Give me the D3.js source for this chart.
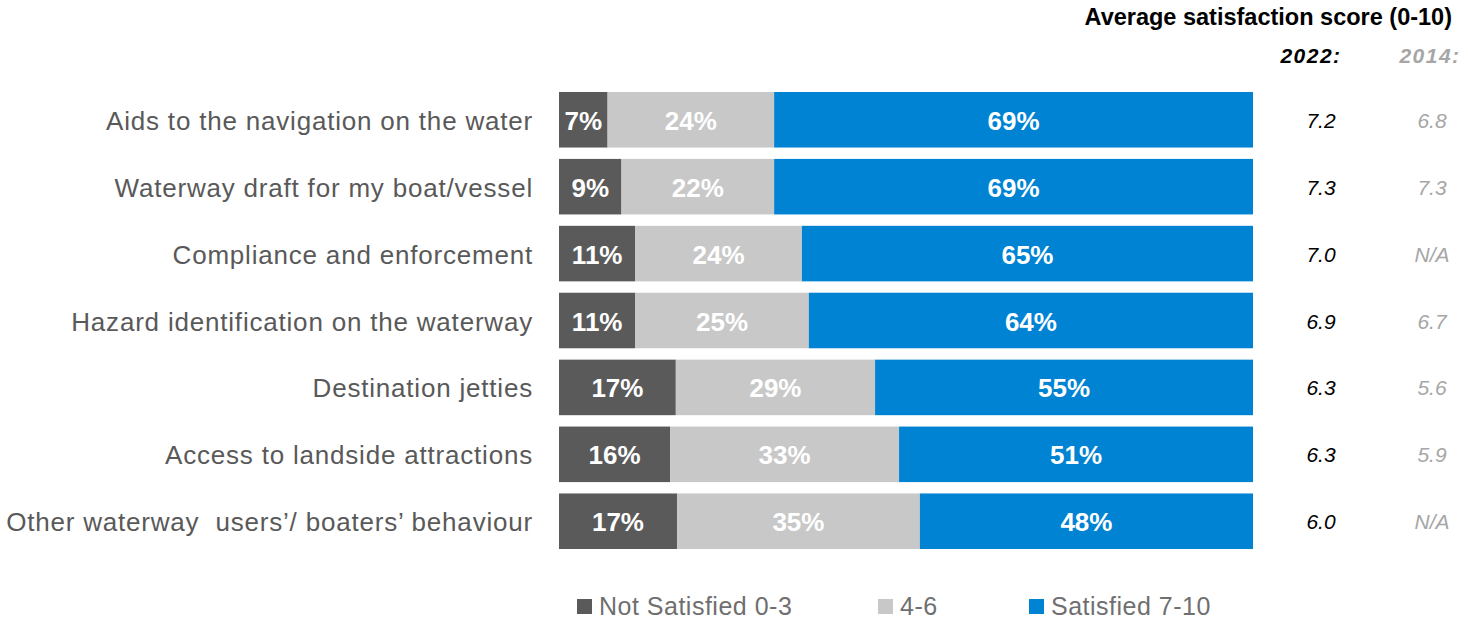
<!DOCTYPE html>
<html>
<head>
<meta charset="utf-8">
<script src="https://cdn.jsdelivr.net/npm/d3@7"></script>
<style>
  html, body { margin: 0; padding: 0; background: #ffffff; }
  svg { display: block; font-family: Arial, "Liberation Sans", sans-serif; }
  .cat { white-space: pre; }
</style>
</head>
<body>
<svg id="chart" width="1468" height="619"></svg>
<script>
// Satisfaction aspects, top to bottom
const categories = [
  "Aids to the navigation on the water",
  "Waterway draft for my boat/vessel",
  "Compliance and enforcement",
  "Hazard identification on the waterway",
  "Destination jetties",
  "Access to landside attractions",
  "Other waterway  users’/ boaters’ behaviour"
];
// Share of respondents per rating band (%)
const notSatisfied = [7, 9, 11, 11, 17, 16, 17];
const neutral      = [24, 22, 24, 25, 29, 33, 35];
const satisfied    = [69, 69, 65, 64, 55, 51, 48];
// Average satisfaction score (0-10)
const score2022 = ["7.2", "7.3", "7.0", "6.9", "6.3", "6.3", "6.0"];
const score2014 = ["6.8", "7.3", "N/A", "6.7", "5.6", "5.9", "N/A"];

const seriesNames = ["Not Satisfied 0-3", "4-6", "Satisfied 7-10"];
const seriesColors = ["#5a5a5a", "#c8c8c8", "#0083d3"];

const svg = d3.select("#chart");

const rows = categories.map((c, i) => ({
  cat: c,
  vals: [notSatisfied[i], neutral[i], satisfied[i]]
}));

const y = d3.scaleBand()
  .domain(categories)
  .range([92, 549])
  .paddingInner(0.17)
  .paddingOuter(0);

const x = d3.scaleLinear().domain([0, 100]).range([559, 1253]);

// Stacked bars, each row spans the full 100%
const rowG = svg.append("g").selectAll("g.row")
  .data(rows)
  .join("g")
  .attr("class", "row");

rowG.each(function(d) {
  const total = d3.sum(d.vals);
  let cum = 0;
  const segs = d.vals.map((v, k) => {
    const s = { v, k, x0: cum / total * 100, x1: (cum + v) / total * 100 };
    cum += v;
    return s;
  });
  const g = d3.select(this);
  g.selectAll("rect")
    .data(segs)
    .join("rect")
    .attr("x", s => x(s.x0))
    .attr("width", s => x(s.x1) - x(s.x0))
    .attr("y", y(d.cat))
    .attr("height", y.bandwidth())
    .attr("fill", s => seriesColors[s.k]);
  g.selectAll("text.val")
    .data(segs)
    .join("text")
    .attr("class", "val")
    .attr("x", s => (x(s.x0) + x(s.x1)) / 2)
    .attr("y", y(d.cat) + y.bandwidth() / 2 + 10)
    .attr("text-anchor", "middle")
    .attr("fill", "#ffffff")
    .attr("font-weight", "bold")
    .attr("font-size", 26)
    .text(s => s.v + "%");
});

// Category labels
svg.append("g").selectAll("text")
  .data(categories)
  .join("text")
  .attr("class", "cat")
  .attr("x", 533)
  .attr("y", c => y(c) + y.bandwidth() / 2 + 10)
  .attr("text-anchor", "end")
  .attr("fill", "#595959")
  .attr("font-size", 26)
  .attr("letter-spacing", 0.8)
  .text(c => c);

// Average score columns
const col2022 = 1321, col2014 = 1432;
svg.append("text")
  .attr("x", 1452).attr("y", 25)
  .attr("text-anchor", "end")
  .attr("font-weight", "bold")
  .attr("font-size", 23.5)
  .attr("fill", "#000000")
  .text("Average satisfaction score (0-10)");

svg.append("text")
  .attr("x", 1311).attr("y", 63)
  .attr("text-anchor", "middle")
  .attr("font-weight", "bold").attr("font-style", "italic")
  .attr("font-size", 21).attr("letter-spacing", 1.5)
  .attr("fill", "#000000")
  .text("2022:");
svg.append("text")
  .attr("x", 1430).attr("y", 63)
  .attr("text-anchor", "middle")
  .attr("font-weight", "bold").attr("font-style", "italic")
  .attr("font-size", 21).attr("letter-spacing", 1.5)
  .attr("fill", "#a6a6a6")
  .text("2014:");

svg.append("g").selectAll("text")
  .data(categories)
  .join("text")
  .attr("x", col2022)
  .attr("y", (c) => y(c) + y.bandwidth() / 2 + 8)
  .attr("text-anchor", "middle")
  .attr("font-style", "italic")
  .attr("font-size", 21)
  .attr("fill", "#000000")
  .text((c, i) => score2022[i]);

svg.append("g").selectAll("text")
  .data(categories)
  .join("text")
  .attr("x", col2014)
  .attr("y", (c) => y(c) + y.bandwidth() / 2 + 8)
  .attr("text-anchor", "middle")
  .attr("font-style", "italic")
  .attr("font-size", 21)
  .attr("fill", "#a6a6a6")
  .text((c, i) => score2014[i]);

// Legend
const legendX = [577, 878, 1029];
const leg = svg.append("g").selectAll("g")
  .data(seriesNames)
  .join("g")
  .attr("transform", (d, i) => `translate(${legendX[i]},599)`);
leg.append("rect")
  .attr("width", 15).attr("height", 15)
  .attr("fill", (d, i) => seriesColors[i]);
leg.append("text")
  .attr("x", 22).attr("y", 16)
  .attr("font-size", 25)
  .attr("letter-spacing", 0.5)
  .attr("fill", "#6f6f6f")
  .text(d => d);
</script>
</body>
</html>
